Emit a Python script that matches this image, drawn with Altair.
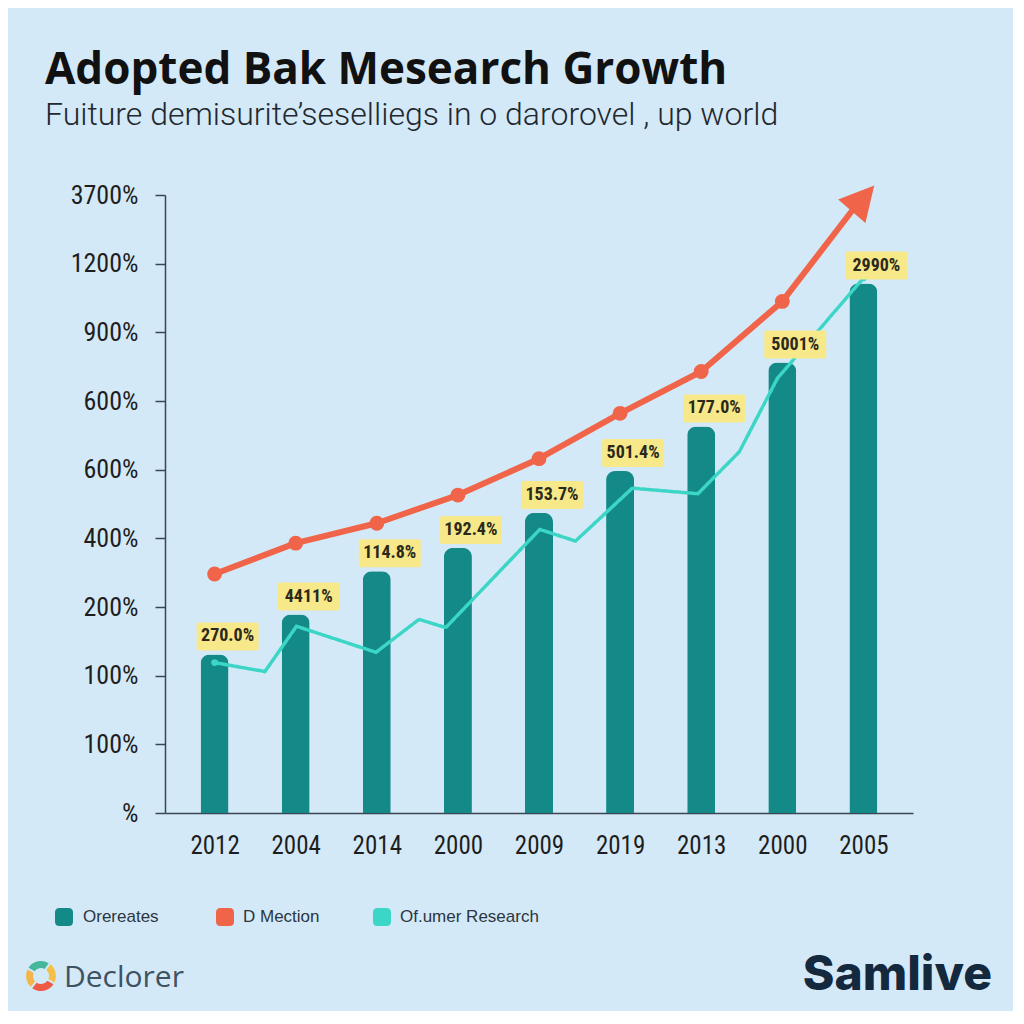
import json
import altair as alt
import pandas as pd

# ---------------- data ----------------
title_text = "Adopted Bak Mesearch Growth"
subtitle_text = "Fuiture demisurite\u2019seselliegs in o darorovel , up world"

years = ["2012", "2004", "2014", "2000", "2009", "2019", "2013", "2000", "2005"]
y_tick_labels = ["%", "100%", "100%", "200%", "400%", "600%", "600%", "900%", "1200%", "3700%"]

bar_values = [2.31, 2.89, 3.52, 3.86, 4.37, 4.98, 5.63, 6.56, 7.71]
bar_labels = ["270.0%", "4411%", "114.8%", "192.4%", "153.7%", "501.4%", "177.0%", "5001%", "2990%"]

red_values = [3.48, 3.93, 4.22, 4.63, 5.16, 5.82, 6.43, 7.45]
red_arrow_x = [7.86]
red_arrow_y = [8.77]
arrow_head_x = [7.98]
arrow_head_y = [8.93]

cyan_x = [0.0, 0.62, 1.01, 1.99, 2.52, 2.85, 4.01, 4.45, 5.15, 5.96, 6.47, 6.94, 8.0]
cyan_y = [2.19, 2.06, 2.72, 2.34, 2.82, 2.70, 4.13, 3.96, 4.73, 4.65, 5.26, 6.33, 7.79]

legend_names = ["Orereates", "D Mection", "Of.umer Research"]
legend_colors = ["#138a87", "#f06449", "#3cd6c6"]

logo_name = "Declorer"
brand_name = "Samlive"
ring_segments = ["a", "b", "c", "d"]
ring_sizes = [95, 85, 100, 80]
ring_colors = ["#45b79b", "#f4c04a", "#ee5a46", "#f3b548"]

# ---------------- frames ----------------
idx = list(range(len(years)))
bars_df = pd.DataFrame({"x": idx, "v": bar_values})
labels_df = pd.DataFrame({"x": idx, "v": bar_values, "t": bar_labels})
red_line_df = pd.DataFrame({"x": idx[:len(red_values)] + red_arrow_x, "v": red_values + red_arrow_y})
red_pts_df = pd.DataFrame({"x": idx[:len(red_values)], "v": red_values})
head_df = pd.DataFrame({"x": arrow_head_x, "v": arrow_head_y})
cyan_df = pd.DataFrame({"x": cyan_x, "v": cyan_y})
cyan_ends_df = pd.DataFrame({"x": [cyan_x[0], cyan_x[-1]], "v": [cyan_y[0], cyan_y[-1]]})
ring_df = pd.DataFrame({"seg": ring_segments, "s": ring_sizes, "i": list(range(len(ring_sizes)))})

NARROW = "Liberation Sans Narrow, Roboto Condensed, Roboto, sans-serif"
AXC = "#3a4650"
TEAL, RED, CYAN = legend_colors

x_expr = json.dumps(years) + "[round(datum.value)]"
y_expr = json.dumps(y_tick_labels) + "[round(datum.value)]"

X = alt.X(
    "x:Q",
    scale=alt.Scale(domain=[-0.55, 8.55], nice=False, zero=False),
    axis=alt.Axis(values=idx, labelExpr=x_expr, title=None, grid=False, ticks=False,
                  tickSize=0, domainColor=AXC, domainWidth=1.5, labelFont=NARROW,
                  labelFontSize=25, labelColor="#1e1e1e", labelPadding=20,
                  labelFlush=False, labelOverlap=False),
)
Y = alt.Y(
    "v:Q",
    scale=alt.Scale(domain=[0, 9], nice=False, zero=True),
    axis=alt.Axis(values=list(range(10)), labelExpr=y_expr, title=None, grid=False,
                  tickSize=10, tickColor=AXC, tickWidth=1.5, domainColor=AXC,
                  domainWidth=1.5, labelFont=NARROW, labelFontSize=26,
                  labelColor="#1e1e1e", labelPadding=17, labelOverlap=False,
                  labelFlush=False),
)

bars = alt.Chart(bars_df).mark_bar(
    width=28, cornerRadiusTopLeft=9, cornerRadiusTopRight=9, color=TEAL
).encode(x=X, y=Y)

cyan = alt.Chart(cyan_df).mark_line(
    color=CYAN, strokeWidth=3.5, strokeDash=[5, 2], strokeCap="round"
).encode(x=X, y=Y)

cyan_ends = alt.Chart(cyan_ends_df).mark_point(
    filled=True, color=CYAN, size=45, opacity=1
).encode(x=X, y=Y)

red_line = alt.Chart(red_line_df).mark_line(
    color=RED, strokeWidth=6, strokeCap="round", strokeJoin="round"
).encode(x=X, y=Y)

red_pts = alt.Chart(red_pts_df).mark_point(
    filled=True, color=RED, size=220, opacity=1
).encode(x=X, y=Y)

head = alt.Chart(head_df).mark_point(
    shape="M0,-1L0.95,0.8L-0.95,0.8Z", filled=True, color=RED, size=1444,
    angle=41, opacity=1
).encode(x=X, y=Y)

boxes = alt.Chart(labels_df).mark_rect(
    color="#f7e88a", cornerRadius=2, xOffset=-18, x2Offset=44, yOffset=-32, y2Offset=-4
).encode(x=X, x2="x:Q", y=Y, y2="v:Q")

label_text = alt.Chart(labels_df).mark_text(
    dx=13, dy=-18, baseline="middle", align="center", font=NARROW, fontSize=18,
    fontWeight="bold", color="#2b2919"
).encode(x=X, y=Y, text="t:N")

# ---------------- titles, legend, logos ----------------
def text_layer(value, x, y, **kw):
    return alt.Chart(pd.DataFrame({"t": [value]})).mark_text(
        align=kw.pop("align", "left"), baseline=kw.pop("baseline", "alphabetic"), **kw
    ).encode(x=alt.value(x), y=alt.value(y), text="t:N")

title = text_layer(title_text, -120, -111, font="Open Sans", fontSize=44,
                   fontWeight="bold", color="#111111")
subtitle = text_layer(subtitle_text, -120, -70, font="Roboto", fontSize=32,
                      fontWeight=300, color="#22282d")

ROUND_SQ = ("M-0.5,-1L0.5,-1Q1,-1 1,-0.5L1,0.5Q1,1 0.5,1L-0.5,1"
            "Q-1,1 -1,0.5L-1,-0.5Q-1,-1 -0.5,-1Z")
legend_layers = []
sym_x = [-101, 60, 217]
txt_x = [-82, 78, 235]
for name, col, sx, tx in zip(legend_names, legend_colors, sym_x, txt_x):
    legend_layers.append(
        alt.Chart(pd.DataFrame({"t": [name]})).mark_point(
            shape=ROUND_SQ, filled=True, color=col, size=324, opacity=1
        ).encode(x=alt.value(sx), y=alt.value(722))
    )
    legend_layers.append(
        text_layer(name, tx, 722, baseline="middle", font="Liberation Sans, Roboto, sans-serif",
                   fontSize=17, color="#2c3640")
    )

ring = alt.Chart(ring_df).mark_arc(radius=15, radius2=8, padAngle=0.12).encode(
    theta=alt.Theta("s:Q", stack=True, scale=alt.Scale(range=[-1.05, 5.23])),
    fill=alt.Fill("seg:N", scale=alt.Scale(domain=ring_segments, range=ring_colors), legend=None),
    order=alt.Order("i:Q"),
    x=alt.value(-124),
    y=alt.value(781),
)
logo = text_layer(logo_name, -101, 792, font="Open Sans", fontSize=30, color="#3e5262")
brand = text_layer(brand_name, 827, 795, align="right", font="Inter", fontSize=48,
                   fontWeight=800, color="#14293d")

chart = alt.layer(
    bars, cyan, cyan_ends, red_line, red_pts, head, boxes, label_text,
    title, subtitle, *legend_layers, ring, logo, brand
).properties(
    width=748, height=618,
    padding={"left": 157, "top": 187, "right": 100, "bottom": 198},
    autosize=alt.AutoSizeParams(type="none"),
    background="#d4e9f8",
).configure_view(stroke=None)

chart.save("out.html", embed_options={"renderer": "svg", "actions": False})
